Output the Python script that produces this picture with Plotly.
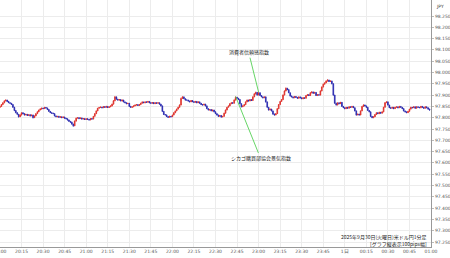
import plotly.graph_objects as go

# 1-minute closes, 20:00 -> 00:59 (minute index 0..299)
closes = [
    97.850, 97.858, 97.866, 97.874, 97.878, 97.872, 97.866, 97.864, 97.858, 97.846,
    97.832, 97.822, 97.815, 97.804, 97.812, 97.822, 97.818, 97.812, 97.815, 97.810,
    97.813, 97.808, 97.812, 97.800, 97.808, 97.818, 97.826, 97.834, 97.838, 97.842,
    97.840, 97.845, 97.843, 97.836, 97.828, 97.822, 97.820, 97.818, 97.808, 97.804,
    97.806, 97.802, 97.804, 97.800, 97.803, 97.798, 97.795, 97.790, 97.784, 97.780,
    97.772, 97.764, 97.785, 97.798, 97.800, 97.796, 97.799, 97.794, 97.796, 97.792,
    97.795, 97.793, 97.790, 97.796, 97.794, 97.806, 97.818, 97.830, 97.842, 97.845,
    97.847, 97.844, 97.849, 97.846, 97.850, 97.845, 97.848, 97.852, 97.860, 97.875,
    97.892, 97.882, 97.878, 97.880, 97.874, 97.878, 97.870, 97.866, 97.862, 97.864,
    97.850, 97.846, 97.848, 97.852, 97.856, 97.858, 97.854, 97.858, 97.864, 97.869,
    97.866, 97.870, 97.868, 97.872, 97.866, 97.864, 97.867, 97.862, 97.866, 97.864,
    97.866, 97.860, 97.852, 97.828, 97.814, 97.812, 97.805, 97.802, 97.806, 97.804,
    97.812, 97.822, 97.830, 97.838, 97.846, 97.856, 97.885, 97.892, 97.884, 97.878,
    97.878, 97.874, 97.870, 97.876, 97.871, 97.868, 97.872, 97.866, 97.870, 97.864,
    97.858, 97.856, 97.860, 97.852, 97.840, 97.834, 97.836, 97.830, 97.834, 97.826,
    97.818, 97.812, 97.806, 97.810, 97.803, 97.806, 97.820, 97.834, 97.846, 97.852,
    97.862, 97.866, 97.864, 97.878, 97.890, 97.886, 97.880, 97.862, 97.848, 97.852,
    97.858, 97.870, 97.878, 97.874, 97.880, 97.876, 97.892, 97.905, 97.912, 97.900,
    97.910, 97.898, 97.892, 97.888, 97.892, 97.870, 97.846, 97.834, 97.838, 97.830,
    97.816, 97.812, 97.818, 97.840, 97.858, 97.872, 97.880, 97.900, 97.918, 97.930,
    97.924, 97.910, 97.896, 97.892, 97.888, 97.894, 97.890, 97.886, 97.892, 97.888,
    97.884, 97.888, 97.886, 97.898, 97.902, 97.898, 97.910, 97.914, 97.908, 97.912,
    97.898, 97.902, 97.900, 97.918, 97.936, 97.948, 97.954, 97.962, 97.966, 97.960,
    97.962, 97.950, 97.900, 97.864, 97.856, 97.866, 97.862, 97.868, 97.850, 97.844,
    97.840, 97.846, 97.842, 97.848, 97.846, 97.850, 97.844, 97.830, 97.812, 97.816,
    97.812, 97.830, 97.850, 97.856, 97.852, 97.846, 97.832, 97.826, 97.806, 97.800,
    97.804, 97.814, 97.822, 97.818, 97.824, 97.820, 97.826, 97.846, 97.866, 97.870,
    97.856, 97.844, 97.842, 97.846, 97.840, 97.846, 97.848, 97.844, 97.850, 97.846,
    97.840, 97.830, 97.826, 97.822, 97.828, 97.838, 97.846, 97.844, 97.848, 97.842,
    97.848, 97.846, 97.844, 97.850, 97.846, 97.842, 97.848, 97.844, 97.838, 97.834,
]
first_open = 97.846

# upper / lower wick lengths (in 0.001 JPY) for each candle
wick_up = [
    1, 2, 1, 3, 2, 1, 2, 1, 1, 2,  2, 1, 2, 1, 3, 1, 1, 2, 1, 1,
    1, 2, 1, 1, 2, 1, 2, 1, 3, 2,  2, 3, 1, 1, 2, 1, 1, 2, 1, 1,
    1, 2, 1, 1, 2, 1, 1, 2, 1, 1,  2, 1, 3, 2, 1, 2, 1, 1, 2, 1,
    1, 2, 1, 2, 1, 1, 2, 2, 1, 3,  2, 1, 2, 1, 2, 1, 1, 2, 2, 3,
    4, 2, 1, 2, 1, 2, 1, 1, 2, 1,  1, 2, 1, 2, 1, 2, 1, 1, 2, 3,
    2, 1, 2, 1, 1, 2, 1, 2, 1, 1,  2, 1, 1, 2, 1, 1, 2, 1, 2, 1,
    1, 2, 1, 2, 2, 3, 4, 3, 2, 1,  2, 1, 1, 2, 1, 2, 1, 1, 2, 1,
    1, 2, 1, 1, 2, 1, 1, 2, 1, 1,  2, 1, 1, 2, 1, 1, 2, 2, 1, 2,
    2, 1, 2, 3, 4, 2, 1, 2, 1, 2,  1, 2, 2, 1, 2, 1, 3, 4, 3, 2,
    3, 2, 1, 2, 1, 2, 1, 1, 2, 1,  1, 2, 1, 2, 2, 1, 2, 3, 3, 4,
    2, 2, 1, 2, 1, 2, 1, 1, 2, 1,  1, 2, 1, 2, 1, 2, 3, 2, 1, 2,
    1, 2, 1, 3, 2, 3, 2, 3, 4, 2,  3, 2, 2, 1, 2, 1, 1, 2, 1, 1,
    2, 1, 1, 2, 1, 1, 2, 1, 2, 1,  1, 2, 1, 3, 2, 1, 1, 2, 1, 1,
    1, 2, 1, 1, 2, 1, 1, 2, 3, 2,  2, 1, 2, 1, 1, 2, 1, 1, 2, 1,
    1, 2, 1, 1, 2, 1, 2, 1, 2, 1,  2, 1, 1, 2, 1, 1, 2, 1, 1, 2,
]
wick_dn = [
    2, 1, 1, 2, 1, 2, 1, 2, 1, 2,  3, 2, 1, 3, 1, 2, 1, 2, 1, 2,
    1, 2, 1, 3, 1, 1, 2, 1, 1, 2,  1, 1, 2, 1, 2, 1, 2, 1, 2, 1,
    2, 1, 2, 1, 1, 2, 1, 2, 2, 1,  3, 4, 1, 2, 1, 2, 1, 2, 1, 2,
    1, 2, 2, 1, 2, 1, 1, 2, 1, 1,  1, 2, 1, 2, 1, 2, 1, 1, 2, 1,
    2, 2, 1, 2, 1, 2, 2, 1, 2, 1,  2, 1, 2, 1, 1, 2, 1, 2, 1, 1,
    1, 2, 1, 1, 2, 1, 2, 1, 1, 2,  1, 2, 2, 3, 2, 1, 2, 3, 1, 2,
    1, 1, 2, 1, 1, 2, 1, 2, 1, 2,  1, 2, 1, 1, 2, 1, 1, 2, 1, 2,
    2, 1, 1, 2, 2, 1, 2, 1, 2, 2,  2, 2, 3, 1, 3, 1, 1, 2, 1, 1,
    1, 2, 1, 1, 2, 1, 2, 3, 2, 1,  1, 2, 1, 2, 1, 2, 1, 1, 2, 2,
    1, 2, 1, 2, 1, 3, 2, 2, 1, 2,  3, 2, 1, 1, 2, 1, 1, 2, 1, 1,
    2, 1, 2, 1, 2, 1, 2, 1, 1, 2,  1, 2, 1, 1, 2, 1, 1, 2, 1, 1,
    2, 1, 2, 1, 1, 2, 1, 1, 2, 1,  1, 2, 3, 2, 2, 1, 2, 1, 2, 1,
    2, 1, 2, 1, 1, 2, 1, 2, 3, 1,  2, 1, 1, 2, 1, 2, 1, 2, 3, 2,
    2, 1, 2, 1, 2, 1, 1, 2, 1, 1,  2, 1, 2, 1, 2, 1, 1, 2, 1, 1,
    1, 2, 2, 1, 1, 2, 1, 2, 1, 2,  1, 2, 1, 2, 1, 2, 1, 1, 2, 2,
]

x_tick_labels = ["20:00", "20:15", "20:30", "20:45", "21:00", "21:15", "21:30",
                 "21:45", "22:00", "22:15", "22:30", "22:45", "23:00", "23:15",
                 "23:30", "23:45", "1日", "00:15", "00:30", "00:45", "01:00"]
y_tick_values = [97.25 + 0.05 * i for i in range(21)]

events = [
    {"minute": 180, "text": "消費者信頼感指数", "ax": -10, "ay": -40},
    {"minute": 164, "text": "シカゴ購買部協会景気指数", "ax": 25, "ay": 62},
]
caption = "2025年9月30日(火曜日)米ドル円1分足<br>[グラフ縦表示100pips幅]"

# build OHLC
minutes = list(range(len(closes)))
opens = [first_open] + closes[:-1]
highs = [max(o, c) + w / 1000 for o, c, w in zip(opens, closes, wick_up)]
lows = [min(o, c) - w / 1000 for o, c, w in zip(opens, closes, wick_dn)]

fig = go.Figure(go.Candlestick(
    x=minutes, open=opens, high=highs, low=lows, close=closes,
    increasing=dict(line=dict(color="#e0302a", width=0.8), fillcolor="#e0302a"),
    decreasing=dict(line=dict(color="#2828b0", width=0.8), fillcolor="#2828b0"),
    whiskerwidth=0, showlegend=False,
))

ann = []
for ev in events:
    m = ev["minute"]
    ann.append(dict(
        x=m, y=highs[m], xref="x", yref="y", text=ev["text"],
        showarrow=True, arrowhead=0, arrowwidth=0.9, arrowcolor="#55d055",
        ax=ev["ax"], ay=ev["ay"], standoff=0,
        font=dict(size=5, color="#222", family="Noto Sans CJK JP"),
    ))
ann.append(dict(
    x=429 / 431, y=(247 - 240) / 247, xref="paper", yref="paper",
    text=caption, showarrow=False, xanchor="right", yanchor="middle", align="right",
    font=dict(size=5, color="#222", family="Noto Sans CJK JP"),
))
ann.append(dict(
    x=440 / 431, y=(247 - 6) / 247, xref="paper", yref="paper",
    text="JPY", showarrow=False, xanchor="center", yanchor="middle",
    font=dict(size=4.5, color="#444", family="DejaVu Sans"),
))

y_top = 98.25 + 16 / 226.0
y_bot = 97.25 - 5 / 226.0

fig.update_layout(
    width=450, height=258,
    margin=dict(l=0, r=19, t=0, b=11),
    paper_bgcolor="white", plot_bgcolor="white",
    annotations=ann,
    xaxis=dict(
        range=[0, 300], tickvals=list(range(0, 301, 15)), ticktext=x_tick_labels,
        showgrid=True, gridcolor="#ececec", gridwidth=1,
        showline=True, linecolor="#999", linewidth=1,
        ticks="", tickfont=dict(size=4.5, color="#555", family="DejaVu Sans"),
        ticklabeloverflow="allow",
        rangeslider=dict(visible=False), zeroline=False, automargin=False,
    ),
    yaxis=dict(
        side="right", range=[y_bot, y_top], tickvals=y_tick_values,
        ticktext=[f"{v:.3f}" for v in y_tick_values],
        showgrid=True, gridcolor="#ececec", gridwidth=1,
        showline=True, linecolor="#999", linewidth=1,
        ticks="outside", ticklen=2, tickcolor="#bbb",
        tickfont=dict(size=4.5, color="#555", family="DejaVu Sans"),
        zeroline=False, automargin=False,
    ),
)

fig.write_html("out.html")
